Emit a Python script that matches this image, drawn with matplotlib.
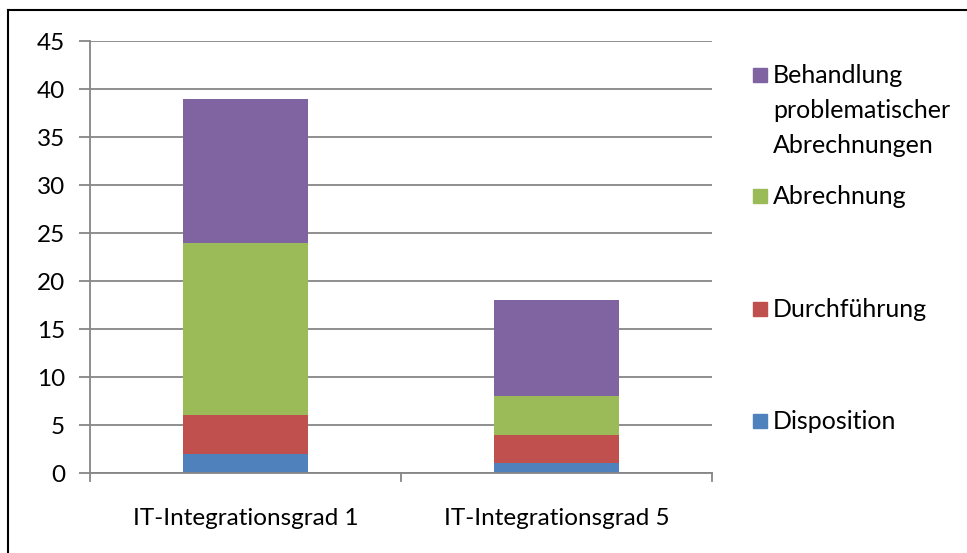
import matplotlib
matplotlib.use('Agg')
import matplotlib.pyplot as plt
from matplotlib.patches import Rectangle
from matplotlib.lines import Line2D
import numpy as np

# Daten
kategorien = ['IT-Integrationsgrad 1', 'IT-Integrationsgrad 5']
disposition = [2, 1]
durchfuehrung = [4, 3]
abrechnung = [18, 4]
behandlung = [15, 10]

serien = ['Disposition', 'Durchführung', 'Abrechnung',
          'Behandlung\nproblematischer\nAbrechnungen']
farben = ['#4f81bd', '#c0504d', '#9bbb59', '#8064a2']
werte = [disposition, durchfuehrung, abrechnung, behandlung]

plt.rcParams['font.family'] = ['Lato', 'DejaVu Sans']

fig = plt.figure(figsize=(9.67, 5.53), dpi=100)
ax = fig.add_axes([90 / 967, 1 - 473 / 553, 622 / 967, 432 / 553])

x = np.arange(len(kategorien))
unten = np.zeros(len(kategorien))
for w, f, s in zip(werte, farben, serien):
    ax.bar(x, w, bottom=unten, width=0.4, color=f, label=s, zorder=3)
    unten += np.array(w)

ax.set_xlim(-0.5, 1.5)
ax.set_ylim(0, 45)
ax.set_yticks(range(0, 46, 5))
ax.set_xticks(x)
ax.set_xticklabels(kategorien)
ax.tick_params(axis='x', length=0, pad=25.5, labelsize=17.5)
ax.tick_params(axis='y', length=8, color='#868686', width=1.3, labelsize=17.5,
               pad=10)
for xt in [-0.5, 0.5, 1.5]:
    ax.plot([xt, xt], [0, -0.85], color='#868686', lw=1.3, clip_on=False,
            zorder=4)
ax.grid(axis='y', color='#868686', lw=1.3, zorder=0)
for sp in ['top', 'right']:
    ax.spines[sp].set_visible(False)
ax.spines['left'].set_color('#868686')
ax.spines['left'].set_linewidth(1.3)
ax.spines['bottom'].set_color('#868686')
ax.spines['bottom'].set_linewidth(1.3)
ax.spines['bottom'].set_zorder(4)

# Legende
leg_y = [421, 309, 196, 75]
for s, f, yy in zip(serien, farben, leg_y):
    fig.patches.append(Rectangle((753 / 967, 1 - (yy + 7) / 553),
                                 14 / 967, 14 / 553, color=f,
                                 transform=fig.transFigure))
    fig.text(773 / 967, 1 - (yy - 11) / 553, s, fontsize=18, va='top',
             ha='left', linespacing=1.63)

# Rahmen
fig.lines.append(Line2D([8 / 967, 1], [1 - 10 / 553, 1 - 10 / 553],
                        color='black', lw=1.5, transform=fig.transFigure))
fig.lines.append(Line2D([8 / 967, 8 / 967], [0, 1 - 10 / 553],
                        color='black', lw=1.5, transform=fig.transFigure))

plt.savefig('out.png', dpi=100)
